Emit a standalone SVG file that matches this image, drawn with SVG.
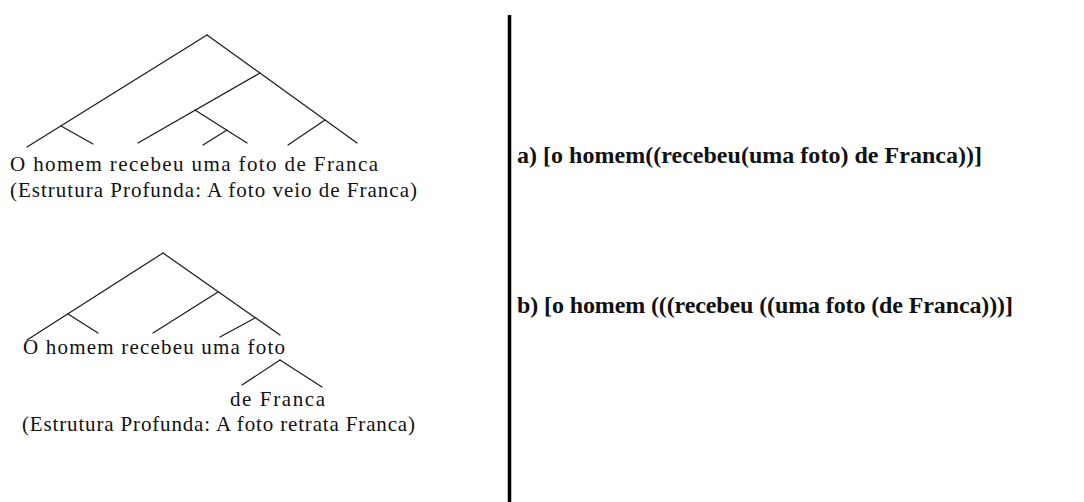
<svg xmlns="http://www.w3.org/2000/svg" width="1084" height="502" viewBox="0 0 1084 502">
<style>
.bg{fill:#ffffff}
.edge{stroke:#1a1a1a;stroke-width:1.2;fill:none;stroke-linecap:round}
.lbl{font-family:"Liberation Serif","Times New Roman",serif;font-size:21px;fill:#111}
.bold{font-family:"Liberation Serif","Times New Roman",serif;font-size:24px;font-weight:bold;fill:#111}
.sep{stroke:#000;stroke-width:3.5}
</style>
<rect class="bg" x="0" y="0" width="1084" height="502"/>
<g id="connectors">
  <g id="tree1-edges">
    <line class="edge" x1="207" y1="35" x2="27" y2="147"/>
    <line class="edge" x1="61" y1="126" x2="93" y2="144"/>
    <line class="edge" x1="207" y1="35" x2="357" y2="143"/>
    <line class="edge" x1="260" y1="73" x2="138" y2="143"/>
    <line class="edge" x1="195" y1="110" x2="247" y2="143"/>
    <line class="edge" x1="227" y1="130" x2="203" y2="145"/>
    <line class="edge" x1="325" y1="120" x2="288" y2="145"/>
  </g>
  <g id="tree2-edges">
    <line class="edge" x1="163" y1="253" x2="27" y2="340"/>
    <line class="edge" x1="68" y1="314" x2="98" y2="333"/>
    <line class="edge" x1="163" y1="253" x2="280" y2="335"/>
    <line class="edge" x1="218" y1="292" x2="153" y2="333"/>
    <line class="edge" x1="255" y1="318" x2="220" y2="337"/>
    <line class="edge" x1="280" y1="360" x2="242" y2="385"/>
    <line class="edge" x1="280" y1="360" x2="322" y2="387"/>
  </g>
</g>
<g id="tree1-text">
  <text class="lbl" x="10" y="171" textLength="368" lengthAdjust="spacing">O homem recebeu uma foto de Franca</text>
  <text class="lbl" x="10" y="197" textLength="407" lengthAdjust="spacing">(Estrutura Profunda: A foto veio de Franca)</text>
</g>
<g id="tree2-text">
  <text class="lbl" x="23" y="354" textLength="262" lengthAdjust="spacing">O homem recebeu uma foto</text>
  <text class="lbl" x="230" y="406" textLength="95" lengthAdjust="spacing">de Franca</text>
  <text class="lbl" x="22" y="431" textLength="393" lengthAdjust="spacing">(Estrutura Profunda: A foto retrata Franca)</text>
</g>
<g id="separator">
  <line class="sep" x1="509.5" y1="15" x2="509.5" y2="502"/>
</g>
<g id="bracket-a">
  <text class="bold" x="517" y="163" textLength="465" lengthAdjust="spacing">a) [o homem((recebeu(uma foto) de Franca))]</text>
</g>
<g id="bracket-b">
  <text class="bold" x="517" y="313" textLength="496" lengthAdjust="spacing">b) [o homem (((recebeu ((uma foto (de Franca)))]</text>
</g>
</svg>
